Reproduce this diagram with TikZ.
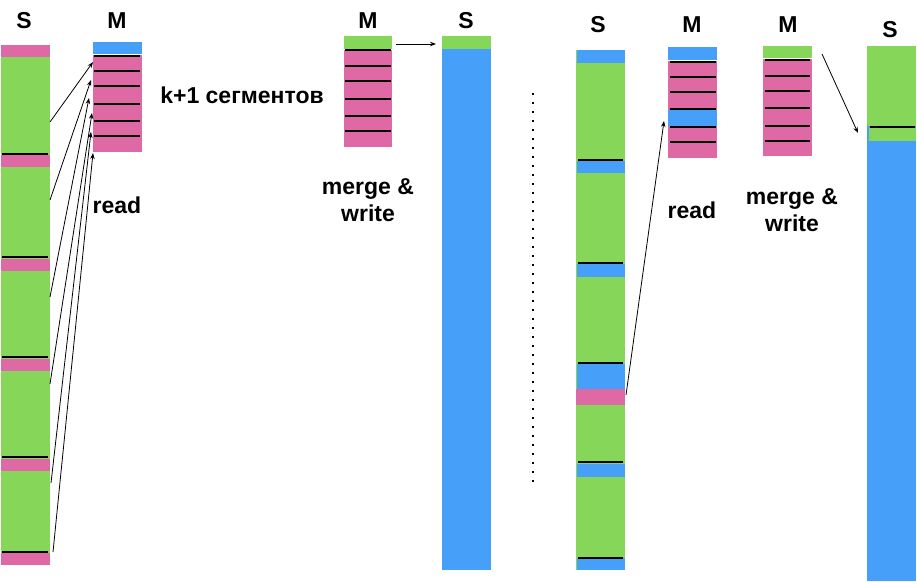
\documentclass[tikz,border=0pt]{standalone}
\usepackage{fontspec}
\setmainfont{Liberation Sans}
\usetikzlibrary{arrows.meta}
\definecolor{sgreen}{HTML}{86D65A}
\definecolor{spink}{HTML}{DF69A4}
\definecolor{sblue}{HTML}{469FF8}

\begin{document}
\begin{tikzpicture}[x=1pt, y=-1pt, >={Stealth[length=6pt, width=4.5pt]},
  font=\fontsize{23}{27.5}\selectfont\bfseries,
  sep/.style={line width=2pt},
  link/.style={->, line width=0.8pt}]
  \useasboundingbox (0,0) rectangle (917,581);

  % S vlevo
  \fill[sgreen] (1,45) rectangle (50,564);
  \foreach \y in {45,155,259,359,459,553} \fill[spink] (1,\y) rectangle (50,\y+11.5);
  \foreach \y in {154,257,357,457,552} \draw[sep] (2,\y) -- (48,\y);
  \node (sA) at (24,21) {S};

  % M vlevo
  \fill[sblue] (93,42) rectangle (142,54);
  \fill[spink] (93,55) rectangle (142,152);
  \foreach \y in {56,71,86,104,121,136} \draw[sep] (94,\y) -- (140,\y);
  \node (mA) at (117,21) {M};
  \node (kseg) at (242,95) {k+1 сегментов};
  \node (readA) at (117,205) {read};

  % Cteni
  \foreach \a/\b/\c/\d [count=\i] in {50/122/93/62, 50/200/91/80, 50/297/89/98,
      50/384/92/113, 51/483/91/132, 53/552/93/153} {
    \coordinate (from\i) at (\a,\b);
    \coordinate (to\i) at (\c,\d);
  }
  \foreach \i in {1,...,6} \draw[link] (from\i) -- (to\i);

  % M uprostred
  \fill[sgreen] (344,36) rectangle (392,49);
  \fill[spink] (344,50) rectangle (392,147);
  \foreach \y in {50,66,81,99,116,131} \draw[sep] (345,\y) -- (391,\y);
  \node (mB) at (368,21) {M};
  \node[align=center] (mergeA) at (368,200) {merge \&\\write};

  % S uprostred
  \fill[sgreen] (442,36) rectangle (491,49);
  \fill[sblue] (442,49) rectangle (491,570);
  \node (sB) at (466,21) {S};
  \coordinate (outB) at (396,44);
  \coordinate (inB) at (436,44);
  \draw[link] (outB) -- (inB);

  % Tecky
  \draw[line width=1.8pt, dash pattern=on 1.8pt off 7.2pt] (533,93) -- (533,483);

  % S vpravo
  \fill[sgreen] (576,50) rectangle (625,570);
  \foreach \y/\h in {50/13, 161/12, 264/13, 364/25, 464/13, 558/12}
    \fill[sblue] (577,\y) rectangle (625,\y+\h);
  \fill[spink] (576,389) rectangle (625,405);
  \foreach \y in {160,263,363,462,558} \draw[sep] (578,\y) -- (623,\y);
  \node (sC) at (598,25) {S};

  % M vpravo
  \fill[sblue] (668,47) rectangle (717,60);
  \fill[spink] (668,61) rectangle (717,158);
  \fill[sblue] (668,110) rectangle (717,126);
  \foreach \y in {62,77,92,109,127,142} \draw[sep] (670,\y) -- (716,\y);
  \node (mC) at (692,25) {M};
  \node (readC) at (692,210) {read};
  \coordinate (fromC) at (626,395);
  \coordinate (toC) at (664,121);
  \draw[link] (fromC) -- (toC);

  % M posledni
  \fill[sgreen] (763,46) rectangle (812,58);
  \fill[spink] (763,59) rectangle (812,156);
  \foreach \y in {60,76,91,108,126,141} \draw[sep] (765,\y) -- (810,\y);
  \node (mD) at (788,25) {M};
  \node[align=center] (mergeD) at (792,210) {merge \&\\write};

  % S posledni
  \fill[sgreen] (867,46) rectangle (916,141);
  \fill[sblue] (867,126) rectangle (916,581);
  \fill[sgreen] (869,128) rectangle (916,141);
  \draw[sep] (870,127) -- (915,127);
  \node (sD) at (890,30) {S};
  \coordinate (outD) at (822,54);
  \coordinate (inD) at (858,133);
  \draw[link] (outD) -- (inD);
\end{tikzpicture}
\end{document}
